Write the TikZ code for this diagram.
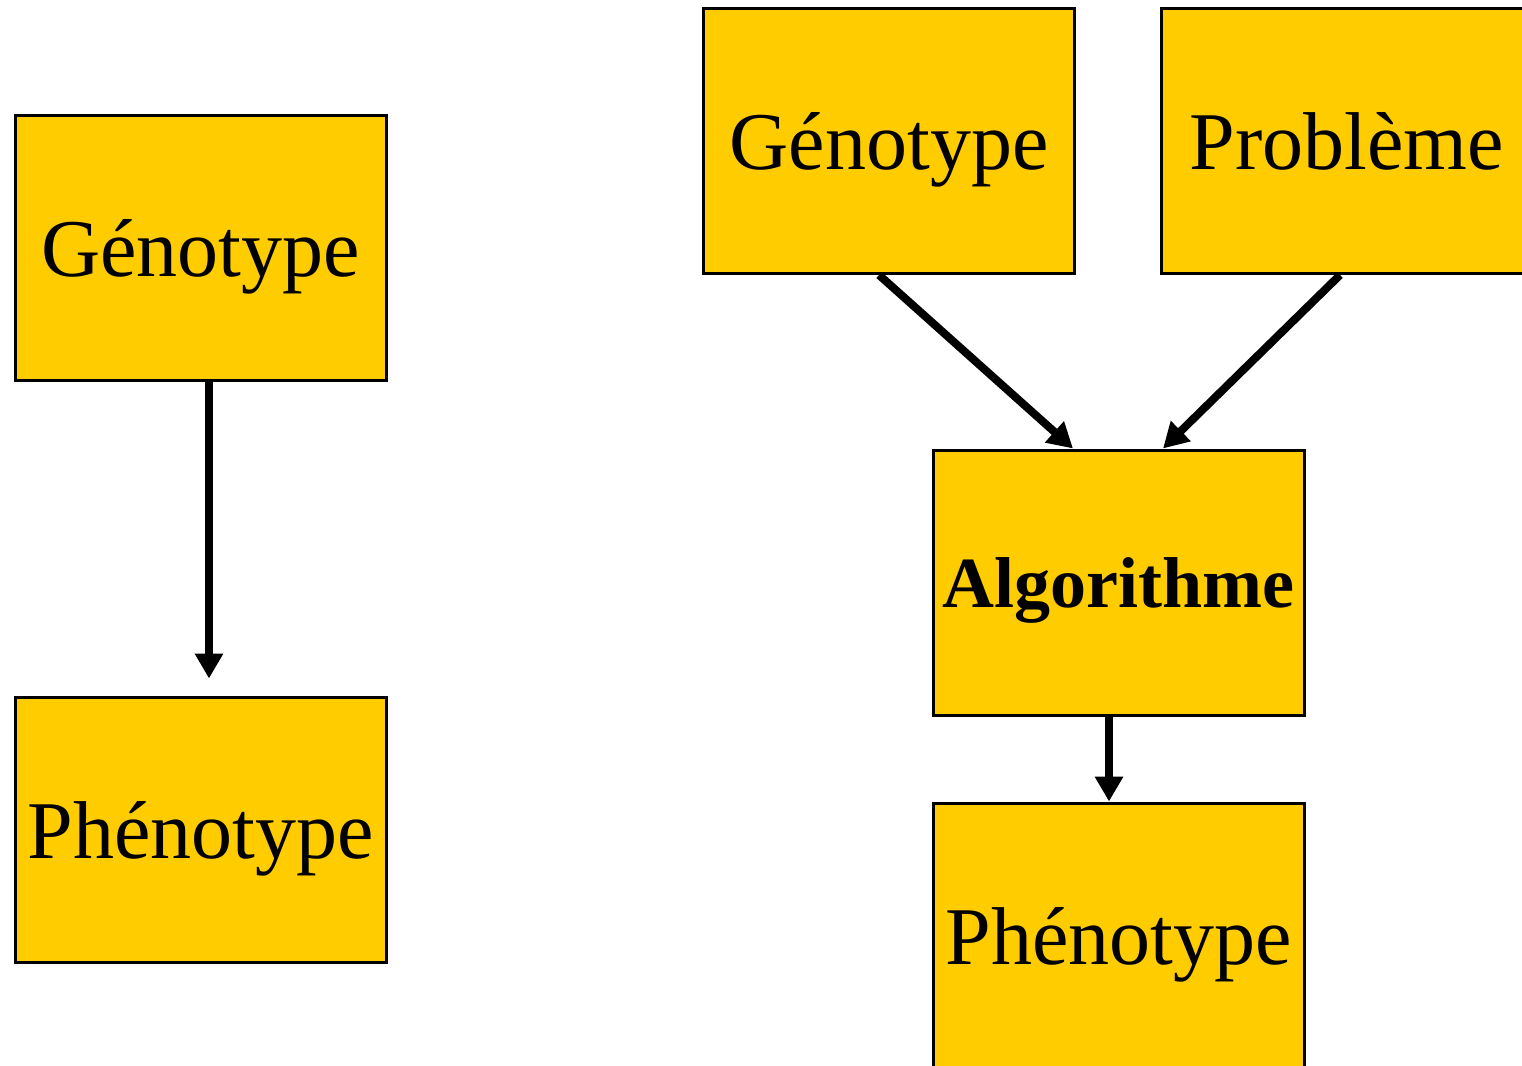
\documentclass[tikz,border=0pt]{standalone}
\usepackage{fontspec}
\setmainfont{Liberation Serif}
\usetikzlibrary{arrows.meta}
\definecolor{boxgold}{HTML}{FFCC00}
\tikzset{
  box/.style={draw=black, line width=3pt, fill=boxgold, rectangle,
    minimum width=371pt, minimum height=265pt, inner sep=0pt, text depth=0pt,
    font=\fontsize{82}{90}\selectfont},
  link/.style={line width=8pt, -{Triangle[length=25pt,width=27pt]}}
}
\begin{document}
\begin{tikzpicture}[x=1pt,y=-1pt]
  \useasboundingbox (0,0) rectangle (1522,1065);

  % direct mapping
  \node[box] (g1) at (200.5,247.5) {Génotype};
  \node[box] (p1) at (200.5,829.5) {Phénotype};

  % mapping through an algorithm
  \node[box] (g2) at (889,141) {Génotype};
  \node[box] (pb) at (1347,141) {Problème};
  \node[box] (al) at (1118.5,582.5) {\bfseries\fontsize{72}{80}\selectfont Algorithme};
  \node[box] (p2) at (1118.5,935.5) {Phénotype};

  \draw[link] ([xshift=8.5pt]g1.south) -- ([xshift=8.5pt,yshift=17pt]p1.north);
  \draw[link] ([xshift=-10pt]g2.south) -- ([xshift=-45.5pt]al.north);
  \draw[link] ([xshift=-7pt]pb.south) -- ([xshift=44.5pt]al.north);
  \draw[link] ([xshift=-9.5pt]al.south) -- ([xshift=-9.5pt]p2.north);
\end{tikzpicture}
\end{document}
